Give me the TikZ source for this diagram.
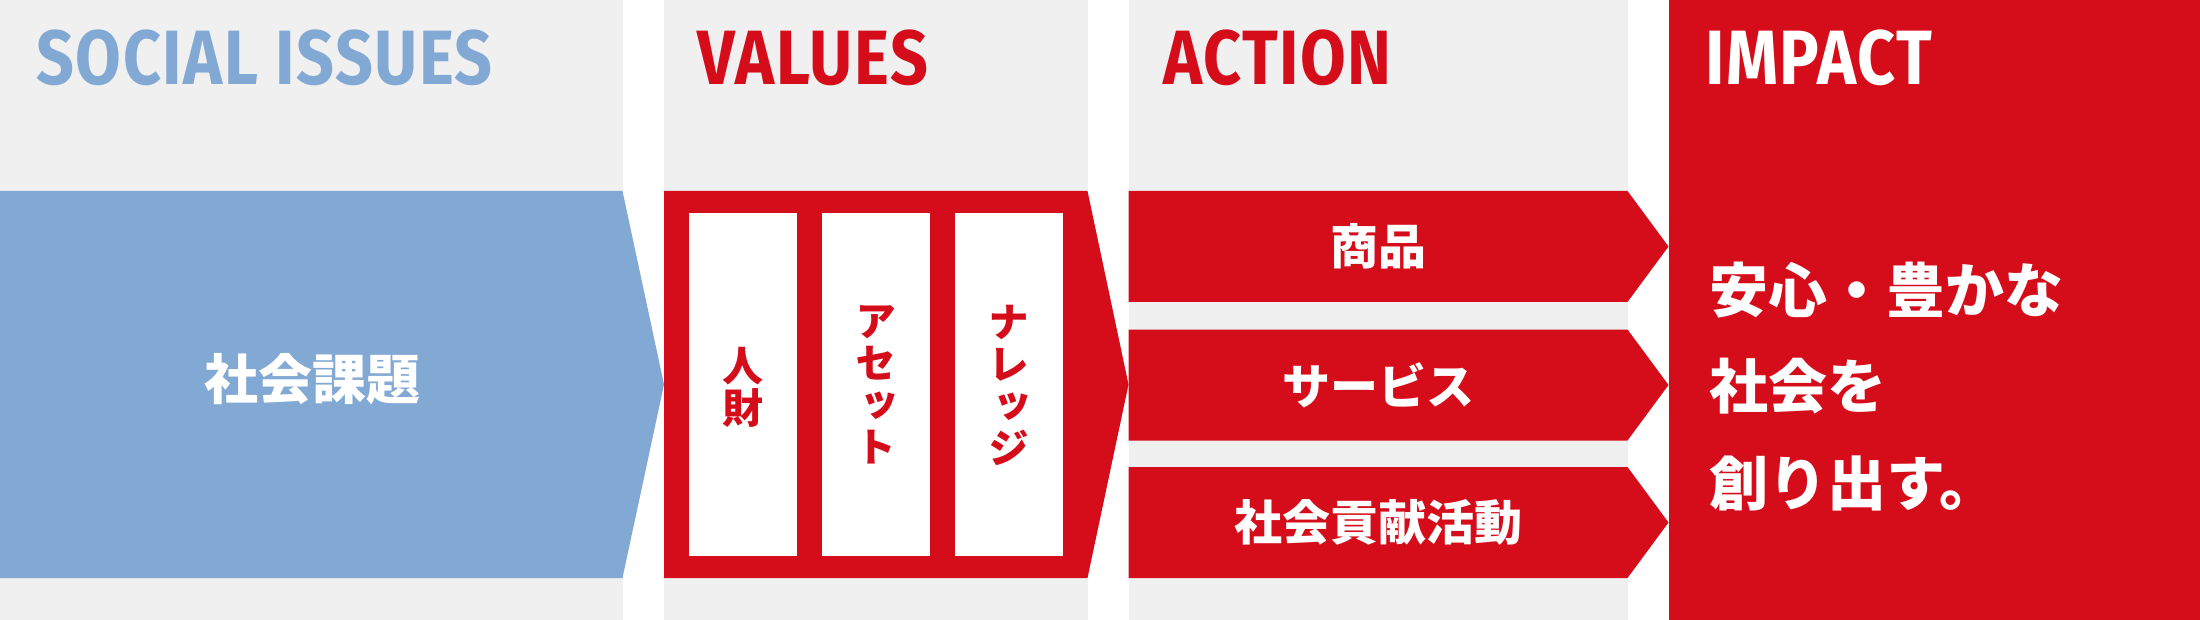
\documentclass[tikz,border=0pt]{standalone}
\usepackage{fontspec}
\newfontfamily\jp{Noto Sans CJK JP}
\newfontfamily\jpv[RawFeature=+vert]{Noto Sans CJK JP}
\newfontfamily\headfont[FakeStretch=0.86,LetterSpace=2]{Fira Sans}
\definecolor{issueblue}{HTML}{82A8D4}
\definecolor{brandred}{HTML}{D50D1A}
\definecolor{colgray}{HTML}{F0F0F0}
\begin{document}
\begin{tikzpicture}[x=0.5pt,y=-0.5pt,
  heading/.style={anchor=base west, inner sep=0pt, font=\headfont\bfseries\fontsize{38.5}{40}\selectfont},
  jplabel/.style={inner sep=0pt, text=white, font=\jp\bfseries\fontsize{24}{28}\selectfont},
  vlabel/.style={inner sep=0pt, text=brandred, align=center, font=\jpv\bfseries\fontsize{20.5}{21}\selectfont}]
\useasboundingbox (0,0) rectangle (2200,620);
% column backgrounds
\fill[colgray] (0,0) rectangle (622.5,620);
\fill[colgray] (664,0) rectangle (1087.5,620);
\fill[colgray] (1128.5,0) rectangle (1627.5,620);
\fill[brandred] (1669,0) rectangle (2200,620);
% headings
\node[heading, text=issueblue] (hsoc) at (36,85) {SOCIAL ISSUES};
\node[heading, text=brandred] (hval) at (697,85) {VALUES};
\node[heading, text=brandred] (hact) at (1163,85) {ACTION};
\node[heading, text=white] (himp) at (1705,85) {IMPACT};
% social issues arrow
\fill[issueblue] (0,191) -- (622.5,191) -- (664,384.5) -- (622.5,578) -- (0,578) -- cycle;
\node[jplabel, font=\jp\bfseries\fontsize{27}{30}\selectfont] (issue) at (312,379) {社会課題};
% values arrow
\fill[brandred] (664,191) -- (1087.5,191) -- (1128.5,384.5) -- (1087.5,578) -- (664,578) -- cycle;
\fill[white] (689,213) rectangle (797,556);
\fill[white] (822,213) rectangle (930,556);
\fill[white] (955,213) rectangle (1062.5,556);
\node[vlabel] (v1) at (743,387) {人\\財};
\node[vlabel] (v2) at (876,385) {ア\\セ\\ッ\\ト};
\node[vlabel] (v3) at (1008.75,385) {ナ\\レ\\ッ\\ジ};
% action arrows
\foreach \t/\b in {191/302, 329.5/440.5, 467/578}{
  \fill[brandred] (1128.5,\t) -- (1627.5,\t) -- (1668.5,{(\t+\b)/2}) -- (1627.5,\b) -- (1128.5,\b) -- cycle;
}
\node[jplabel] (a1) at (1378,246.5) {商品};
\node[jplabel] (a2) at (1378,385) {サービス};
\node[jplabel] (a3) at (1378,522.5) {社会貢献活動};
% impact text
\node[inner sep=0pt, anchor=west, align=left, text=white, font=\jp\bfseries\fontsize{29.5}{48.25}\selectfont] (imp) at (1709,386.5) {安心・豊かな\\社会を\\創り出す。};
\end{tikzpicture}
\end{document}
